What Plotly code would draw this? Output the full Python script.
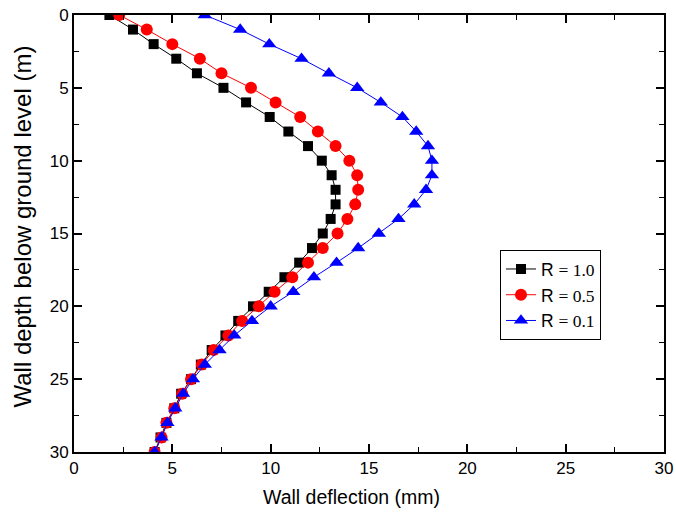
import plotly.graph_objects as go

depth = list(range(0, 31))
r10 = [1.8, 3.0, 4.05, 5.2, 6.25, 7.6, 8.75, 9.95, 10.9, 11.9, 12.6, 13.1, 13.3, 13.3, 13.05, 12.65,
       12.1, 11.45, 10.7, 9.9, 9.1, 8.35, 7.7, 7.0, 6.45, 5.95, 5.45, 5.1, 4.7, 4.4, 4.1]
r05 = [2.3, 3.7, 5.0, 6.4, 7.5, 9.0, 10.25, 11.5, 12.4, 13.3, 14.0, 14.4, 14.45, 14.3, 13.9, 13.4,
       12.65, 11.9, 11.1, 10.2, 9.4, 8.55, 7.85, 7.1, 6.5, 5.95, 5.5, 5.1, 4.7, 4.45, 4.1]
r01 = [6.65, 8.45, 9.93, 11.57, 12.96, 14.4, 15.6, 16.7, 17.4, 18.0, 18.2, 18.2, 17.9, 17.3, 16.5, 15.5,
       14.45, 13.35, 12.2, 11.15, 10.0, 9.05, 8.15, 7.4, 6.65, 6.05, 5.55, 5.15, 4.75, 4.45, 4.1]
names = ["1.0", "0.5", "0.1"]
xticks = [0, 5, 10, 15, 20, 25, 30]
yticks = [0, 5, 10, 15, 20, 25, 30]
xtitle = "Wall deflection (mm)"
ytitle = "Wall depth below ground level (m)"

sans = "Liberation Sans, Arial"

fig = go.Figure()
specs = [(r10, "black", "square", 10), (r05, "#ff0000", "circle", 12), (r01, "#0000ff", "triangle-up", 12.5)]
for (vals, col, sym, sz), nm in zip(specs, names):
    fig.add_trace(go.Scatter(
        x=vals, y=depth, mode="lines+markers",
        name='R <span style="font-family:Liberation Serif,Times New Roman,serif">= ' + nm + '</span>',
        line=dict(color=col, width=1),
        marker=dict(color=col, symbol=sym, size=sz),
    ))

axis_common = dict(
    showgrid=False, zeroline=False, showline=True, linecolor="black", linewidth=2,
    mirror="ticks", ticks="inside", ticklen=8, tickwidth=1.5, tickcolor="black",
    tickfont=dict(family=sans, size=17, color="black"), automargin=False,
    minor=dict(ticks="inside", ticklen=5, tickwidth=1.2, tickcolor="black", dtick=2.5),
)

fig.update_xaxes(range=[0, 30], tickvals=xticks, ticktext=[str(v) for v in xticks], **axis_common)
fig.update_yaxes(range=[30, 0], tickvals=yticks, ticktext=[str(v) for v in yticks], **axis_common)

fig.add_annotation(text=xtitle, xref="paper", yref="paper", x=0.4695, y=-0.103,
                   xanchor="center", yanchor="middle", showarrow=False,
                   font=dict(family=sans, size=19.5, color="black"))
fig.add_annotation(text=ytitle, xref="paper", yref="paper", x=-0.0873, y=0.517,
                   xanchor="center", yanchor="middle", showarrow=False, textangle=-90,
                   font=dict(family=sans, size=24, color="black"))

fig.update_layout(
    width=676, height=513,
    margin=dict(l=74, r=12, t=15, b=61),
    plot_bgcolor="white", paper_bgcolor="white",
    legend=dict(x=0.722, y=0.462, xanchor="left", yanchor="top",
                bordercolor="black", borderwidth=1, bgcolor="white",
                font=dict(family=sans, size=17.5, color="black"),
                tracegroupgap=0),
    showlegend=True,
)

fig.write_html("out.html")
